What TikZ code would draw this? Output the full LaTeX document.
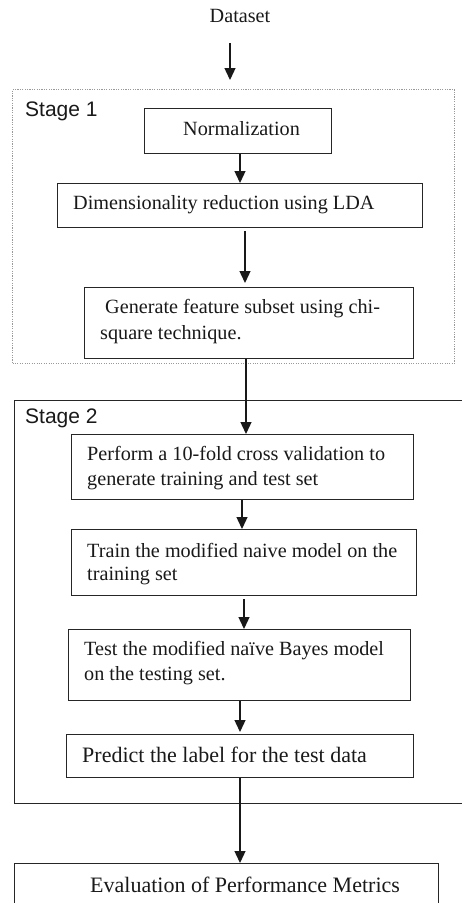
\documentclass[tikz,border=0pt]{standalone}
\usepackage{fontspec}
\setmainfont{Liberation Serif}
\newfontfamily\stagefont{Liberation Sans}
\usetikzlibrary{arrows.meta}

\begin{document}
\begin{tikzpicture}[x=1pt,y=-1pt,
  box/.style={draw=black!85, line width=1.1pt, inner sep=0pt, anchor=north west},
  stagebox/.style={draw=black!40, line width=1pt, dash pattern=on 1.1pt off 1.3pt, inner sep=0pt, anchor=north west},
  txt/.style={anchor=base west, inner sep=0pt, text=black!90, font=\fontsize{20.2}{26}\selectfont},
  bigtxt/.style={txt, font=\fontsize{22}{27}\selectfont},
  stagelbl/.style={anchor=base west, inner sep=0pt, text=black!90, font=\stagefont\fontsize{21}{25}\selectfont},
  arr/.style={draw=black!90, line width=1.3pt, -{Triangle[length=12pt,width=11pt]}},
]
\useasboundingbox (0,0) rectangle (462,903);
\clip (0,0) rectangle (462,903);

% columns used by the vertical connectors
\coordinate (x230) at (230,0);
\coordinate (x240) at (240,0);
\coordinate (x242) at (242,0);
\coordinate (x244) at (244,0);
\coordinate (x245) at (245,0);
\coordinate (x246) at (246,0);

% stage frames
\node[stagebox, minimum width=442pt, minimum height=274pt] (s1) at (12,89) {};
\node[box, minimum width=480pt, minimum height=403pt] (s2) at (14,400) {};
\node[stagelbl] (s1lbl) at (25,116) {Stage 1};
\node[stagelbl] (s2lbl) at (25,423) {Stage 2};

% input
\node[txt, anchor=base] (data) at (240,22) {Dataset};

% process boxes
\node[box, minimum width=187pt, minimum height=45pt] (norm)  at (144,108) {};
\node[box, minimum width=365pt, minimum height=44pt] (dim)   at (57,183) {};
\node[box, minimum width=329pt, minimum height=71pt] (gen)   at (84,287) {};
\node[box, minimum width=342pt, minimum height=65pt] (perf)  at (71,434) {};
\node[box, minimum width=345pt, minimum height=66pt] (train) at (71,529) {};
\node[box, minimum width=342pt, minimum height=71pt] (test)  at (68,629) {};
\node[box, minimum width=347pt, minimum height=43pt] (pred)  at (66,734) {};
\node[box, minimum width=424pt, minimum height=80pt] (eval)  at (14,863) {};

% box texts
\node[txt] (tnorm)  at (183,135) {Normalization};
\node[txt] (tdim)   at (73,209)  {Dimensionality reduction using LDA};
\node[txt] (tgen1)  at (105,313) {Generate feature subset using chi-};
\node[txt] (tgen2)  at (100,339) {square technique.};
\node[txt] (tperf1) at (87,460)  {Perform a 10-fold cross validation to};
\node[txt] (tperf2) at (87,485)  {generate training and test set};
\node[txt] (ttr1)   at (87,557)  {Train the modified naive model on the};
\node[txt] (ttr2)   at (87,580)  {training set};
\node[txt] (tte1)   at (84,655)  {Test the modified naïve Bayes model};
\node[txt] (tte2)   at (84,680)  {on the testing set.};
\node[bigtxt] (tpred) at (82,762) {Predict the label for the test data};
\node[bigtxt] (teval) at (90,892) {Evaluation of Performance Metrics};

% connectors
\draw[arr, shorten <=21pt, shorten >=9pt] (data.south -| x230) -- (s1.north -| x230);
\draw[arr] (norm.south -| x240) -- (dim.north -| x240);
\draw[arr, shorten <=3pt, shorten >=4pt] (dim.south -| x245) -- (gen.north -| x245);
\draw[arr] (gen.south -| x246) -- (perf.north -| x246);
\draw[arr] (perf.south -| x242) -- (train.north -| x242);
\draw[arr, shorten <=3pt] (train.south -| x244) -- (test.north -| x244);
\draw[arr, shorten >=2pt] (test.south -| x240) -- (pred.north -| x240);
\draw[arr] (pred.south -| x240) -- (eval.north -| x240);
\end{tikzpicture}
\end{document}
